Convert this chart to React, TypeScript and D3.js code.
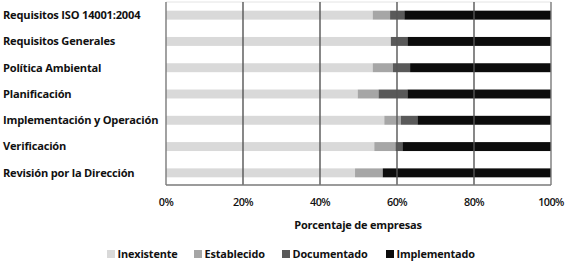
import React from "react";
import * as d3 from "d3";

const categories = [
  "Requisitos ISO 14001:2004",
  "Requisitos Generales",
  "Política Ambiental",
  "Planificación",
  "Implementación y Operación",
  "Verificación",
  "Revisión por la Dirección",
];
const seriesNames = ["Inexistente", "Establecido", "Documentado", "Implementado"];
const inexistente = [53.7, 58.4, 53.7, 49.8, 56.7, 54.1, 49.1];
const establecido = [4.5, 0, 5.2, 5.4, 4.3, 5.5, 7.2];
const documentado = [3.7, 4.3, 4.5, 7.5, 4.3, 1.8, 0];
const implementado = [38.1, 37.3, 36.6, 37.3, 34.7, 38.6, 43.7];
const ticks = [0, 20, 40, 60, 80, 100];
const colors = ["#d9d9d9", "#a6a6a6", "#595959", "#0c0c0c"];

const W = 568;
const H = 264;
const FONT = "'Open Sans', 'Liberation Sans', sans-serif";

export default function App() {
  const rows = categories.map((c, i) => ({
    cat: c,
    Inexistente: inexistente[i],
    Establecido: establecido[i],
    Documentado: documentado[i],
    Implementado: implementado[i],
  }));
  const stacked = d3.stack<any>().keys(seriesNames)(rows);
  const x = d3.scaleLinear().domain([0, 100]).range([166, 551]);
  const y = d3.scaleBand<string>().domain(categories).range([2, 186]).paddingInner(0.66).paddingOuter(0.33);
  const plotTop = 2;
  const plotBottom = 185;

  const legendX = [107, 194, 282, 386];

  return (
    <svg width={W} height={H} style={{ position: "absolute", left: 0, top: 0, background: "#fff" }} fontFamily={FONT}>
      <rect x={0} y={0} width={W} height={H} fill="#fff" />
      <line x1={x(0)} x2={x(100)} y1={plotTop} y2={plotTop} stroke="#e4e4e4" strokeWidth={1} />
      {stacked.map((s, si) =>
        s.map((d, i) => (
          <rect
            key={si + "-" + i}
            x={x(d[0])}
            width={Math.max(0, x(d[1]) - x(d[0]))}
            y={y(categories[i])}
            height={y.bandwidth()}
            fill={colors[si]}
          />
        ))
      )}
      {ticks.map((t) => (
        <line key={t} x1={x(t)} x2={x(t)} y1={plotTop} y2={plotBottom} stroke={t === 0 || t === 100 ? "#7a7a7a" : "#555"} strokeWidth={1.4} />
      ))}
      <line x1={x(0)} x2={x(100)} y1={plotBottom} y2={plotBottom} stroke="#7a7a7a" strokeWidth={1.4} />
      {categories.map((c) => (
        <text key={c} x={3} y={(y(c) as number) + y.bandwidth() / 2} dy="0.35em" fontSize={11.1} fontWeight={700} fill="#111" letterSpacing={-0.2}>
          {c}
        </text>
      ))}
      {ticks.map((t) => (
        <text key={"l" + t} x={x(t)} y={202} dy="0.35em" textAnchor="middle" fontSize={10.8} fontWeight={600} fill="#111" letterSpacing={-0.6}>
          {t + "%"}
        </text>
      ))}
      <text x={358} y={225} dy="0.35em" textAnchor="middle" fontSize={11} fontWeight={700} fill="#111" letterSpacing={-0.2}>
        Porcentaje de empresas
      </text>
      {seriesNames.map((n, i) => (
        <g key={n}>
          <rect x={legendX[i]} y={250} width={8} height={8} fill={colors[i]} />
          <text x={legendX[i] + 10.5} y={254} dy="0.35em" fontSize={10.9} fontWeight={700} fill="#111" letterSpacing={-0.15}>
            {n}
          </text>
        </g>
      ))}
    </svg>
  );
}
